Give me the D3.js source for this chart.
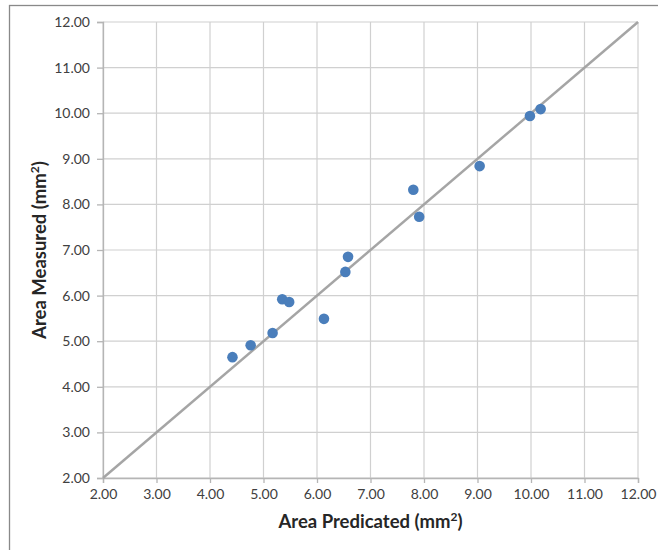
<!DOCTYPE html>
<html>
<head>
<meta charset="utf-8">
<script src="https://cdn.jsdelivr.net/npm/d3@7"></script>
<style>
  body { margin: 0; background: #fff; }
  text { font-family: Lato, "Open Sans", sans-serif; }
</style>
</head>
<body>
<div id="graph"></div>
<script>
// predicted vs measured area (mm2)
var predits = [4.42, 4.76, 5.17, 5.35, 5.48, 6.13, 6.53, 6.58, 7.80, 7.91, 9.04, 9.98, 10.18],
    mesures = [4.65, 4.91, 5.18, 5.92, 5.86, 5.49, 6.52, 6.85, 8.32, 7.73, 8.84, 9.94, 10.09],
    graduations = [2, 3, 4, 5, 6, 7, 8, 9, 10, 11, 12],
    diagonale = [2, 12];

function dessinNuage() {
    var margin = {top: 22, right: 20, bottom: 72, left: 103},
        width = 638 - margin.left,
        height = 478 - margin.top,

        couleur_points = "#4a7ebb",
        couleur_grille = "#d0d0d0",
        couleur_axe = "#b5b5b5",
        couleur_texte = "#404040",

        root = d3.select("#graph")
            .append("svg")
                .attr("width", 658)
                .attr("height", 550),

        svg = root.append("g")
                .attr("transform", "translate(" + margin.left + "," + margin.top + ")"),

        x = d3.scaleLinear()
            .domain([2, 12])
            .range([0, width]),

        y = d3.scaleLinear()
            .domain([2, 12])
            .range([height, 0]);

    // cadre
    root.append("rect")
        .attr("x", 9.5)
        .attr("y", 5.5)
        .attr("width", 660)
        .attr("height", 560)
        .attr("fill", "none")
        .attr("stroke", "#898989")
        .attr("stroke-width", 1.3);

    // grille
    svg.selectAll(".vgrille")
        .data(graduations)
        .enter()
        .append("line")
        .attr("x1", function (d) { return x(d); })
        .attr("x2", function (d) { return x(d); })
        .attr("y1", 0)
        .attr("y2", height)
        .style("stroke", couleur_grille)
        .style("stroke-width", 1.2);
    svg.selectAll(".hgrille")
        .data(graduations)
        .enter()
        .append("line")
        .attr("x1", 0)
        .attr("x2", width)
        .attr("y1", function (d) { return y(d); })
        .attr("y2", function (d) { return y(d); })
        .style("stroke", couleur_grille)
        .style("stroke-width", 1.2);

    var axeX = svg.append("g")
        .attr("transform", "translate(0," + height + ")")
        .call(d3.axisBottom(x).tickValues(graduations).tickSize(5).tickPadding(6)
            .tickFormat(d3.format(".2f")));
    var axeY = svg.append("g")
        .call(d3.axisLeft(y).tickValues(graduations).tickSize(6).tickPadding(7)
            .tickFormat(d3.format(".2f")));

    [axeX, axeY].forEach(function (a) {
        a.select(".domain").attr("stroke", couleur_axe).attr("stroke-width", 1.3);
        a.selectAll(".tick line").attr("stroke", couleur_axe).attr("stroke-width", 1.3);
        a.selectAll(".tick text")
            .attr("fill", couleur_texte)
            .style("font-size", "14px")
            .style("font-family", "Lato, sans-serif");
    });

    // droite y = x
    svg.append("line")
        .attr("x1", x(diagonale[0]))
        .attr("y1", y(diagonale[0]))
        .attr("x2", x(diagonale[1]))
        .attr("y2", y(diagonale[1]))
        .style("stroke", "#a5a5a5")
        .style("stroke-width", 2.5);

    svg.selectAll(".point")
        .data(predits)
        .enter()
        .append("circle")
        .attr("cx", function (d) { return x(d); })
        .attr("cy", function (d, i) { return y(mesures[i]); })
        .attr("r", 5.3)
        .style("fill", couleur_points);

    svg.append("text")
        .attr("x", width / 2)
        .attr("y", height + 50)
        .style("text-anchor", "middle")
        .style("font-weight", "bold")
        .style("font-size", "18.5px")
        .style("fill", "#262626")
        .html("Area Predicated (mm<tspan dy='-7' font-size='12px'>2</tspan><tspan dy='7'>)</tspan>");

    svg.append("text")
        .attr("transform", "translate(-57," + (height / 2) + ") rotate(-90)")
        .style("text-anchor", "middle")
        .style("font-weight", "bold")
        .style("font-size", "18.5px")
        .style("fill", "#262626")
        .html("Area Measured (mm<tspan dy='-7' font-size='12px'>2</tspan><tspan dy='7'>)</tspan>");
}

dessinNuage();
</script>
</body>
</html>
